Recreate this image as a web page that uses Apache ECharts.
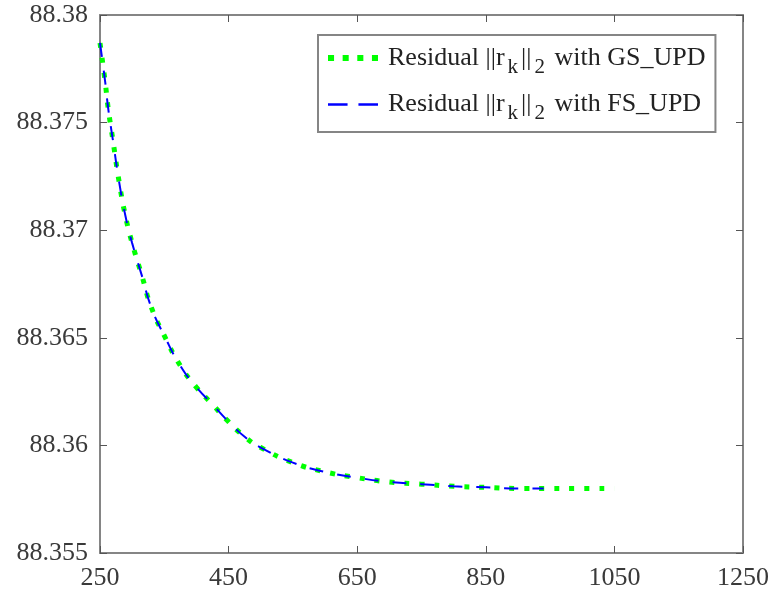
<!DOCTYPE html>
<html>
<head>
<meta charset="utf-8">
<script src="https://cdn.jsdelivr.net/npm/echarts@6/dist/echarts.min.js"></script>
</head>
<body style="margin:0;background:#fff">
<div id="container" style="width:772px;height:600px"></div>
<script type="text/javascript">
// residual norm readings
var xGS = [250, 258, 263, 270, 280, 290, 300, 315, 330, 350, 375, 400, 425, 450, 475, 500, 550, 600, 650, 700, 750, 800, 850, 900, 950, 1000, 1050];
var yGS = [88.3787, 88.3769, 88.3756, 88.3742, 88.3722, 88.3706, 88.3694, 88.3679, 88.3664, 88.3651, 88.3637, 88.3627, 88.3619, 88.3611, 88.3604, 88.3599, 88.3592, 88.35877, 88.3585, 88.3583, 88.3582, 88.3581, 88.35805, 88.3580, 88.3580, 88.3580, 88.3580];
var xFS = [250, 258, 263, 270, 280, 290, 300, 315, 330, 350, 375, 400, 425, 450, 475, 500, 550, 600, 650, 700, 750, 800, 850, 900, 940];
var yFS = [88.3787, 88.3769, 88.3756, 88.3742, 88.3722, 88.3706, 88.3694, 88.3679, 88.3664, 88.3651, 88.3637, 88.3627, 88.3619, 88.3611, 88.3604, 88.3599, 88.3592, 88.35877, 88.3585, 88.3583, 88.3582, 88.3581, 88.35805, 88.3580, 88.3580];
var xTicks = [250, 450, 650, 850, 1050, 1250];
var yTicks = [88.355, 88.36, 88.365, 88.37, 88.375, 88.38];
var names = ['GS_UPD', 'FS_UPD'];

function pairs(xs, ys) {
    var out = [];
    for (var i = 0; i < xs.length; i++) out.push([xs[i], ys[i]]);
    return out;
}

var axisCol = '#858585';
var txtCol = '#3a3a3a';
var font = 'Liberation Serif';

function xAx(pos, lab) {
    return {
        type: 'value', position: pos, min: 250, max: 1250,
        axisLine: {show: true, onZero: false, lineStyle: {color: axisCol, width: 2}},
        axisTick: {show: true, inside: true, length: 7, customValues: xTicks, lineStyle: {color: '#555', width: 1}},
        axisLabel: {show: lab, customValues: xTicks, color: txtCol, fontFamily: font, fontSize: 26, margin: 12,
            formatter: function (v) { return String(v); }},
        splitLine: {show: false}
    };
}
function yAx(pos, lab) {
    return {
        type: 'value', position: pos, min: 88.355, max: 88.38,
        axisLine: {show: true, onZero: false, lineStyle: {color: axisCol, width: 2}},
        axisTick: {show: true, inside: true, length: 7, customValues: yTicks, lineStyle: {color: '#555', width: 1}},
        axisLabel: {show: lab, customValues: yTicks, color: txtCol, fontFamily: font, fontSize: 26, margin: 12,
            formatter: function (v) { return String(+v.toFixed(3)); }},
        splitLine: {show: false}
    };
}

var myChart = echarts.init(document.getElementById('container'));
var option = {
    animation: false,
    grid: {left: 100, right: 28, top: 15, bottom: 47},
    xAxis: [xAx('bottom', true), xAx('top', false)],
    yAxis: [yAx('left', true), yAx('right', false)],
    legend: {
        orient: 'vertical', left: 318, top: 35,
        backgroundColor: '#fff', borderColor: axisCol, borderWidth: 2,
        padding: [10, 10, 8, 10], itemGap: 14, itemWidth: 50, itemHeight: 14,
        formatter: function (n) { return 'Residual ||r{sub|k}||{sub|2} with ' + n; },
        textStyle: {
            color: '#222', fontFamily: font, fontSize: 26, padding: [0, 0, 0, 5],
            rich: {sub: {fontFamily: font, fontSize: 21, color: '#222', padding: [18, 3, 0, 3]}}
        },
        data: [
            {name: names[0], icon: 'path://M0,0h6v6h-6z M14.5,0h6v6h-6z M29,0h6v6h-6z M43.5,0h6v6h-6z'},
            {name: names[1], icon: 'path://M0,0h18v2.5h-18z M28,0h18v2.5h-18z'}
        ]
    },
    series: [
        {
            name: names[0], type: 'line', smooth: true, symbol: 'none', xAxisIndex: 0, yAxisIndex: 0,
            lineStyle: {color: '#00ff00', width: 5, type: [5, 10], cap: 'butt'},
            itemStyle: {color: '#00ff00'},
            data: pairs(xGS, yGS)
        },
        {
            name: names[1], type: 'line', smooth: true, symbol: 'none', xAxisIndex: 0, yAxisIndex: 0,
            lineStyle: {color: '#0000ff', width: 2, type: [14, 14], cap: 'butt'},
            itemStyle: {color: '#0000ff'},
            data: pairs(xFS, yFS)
        }
    ]
};
myChart.setOption(option);
</script>
</body>
</html>
